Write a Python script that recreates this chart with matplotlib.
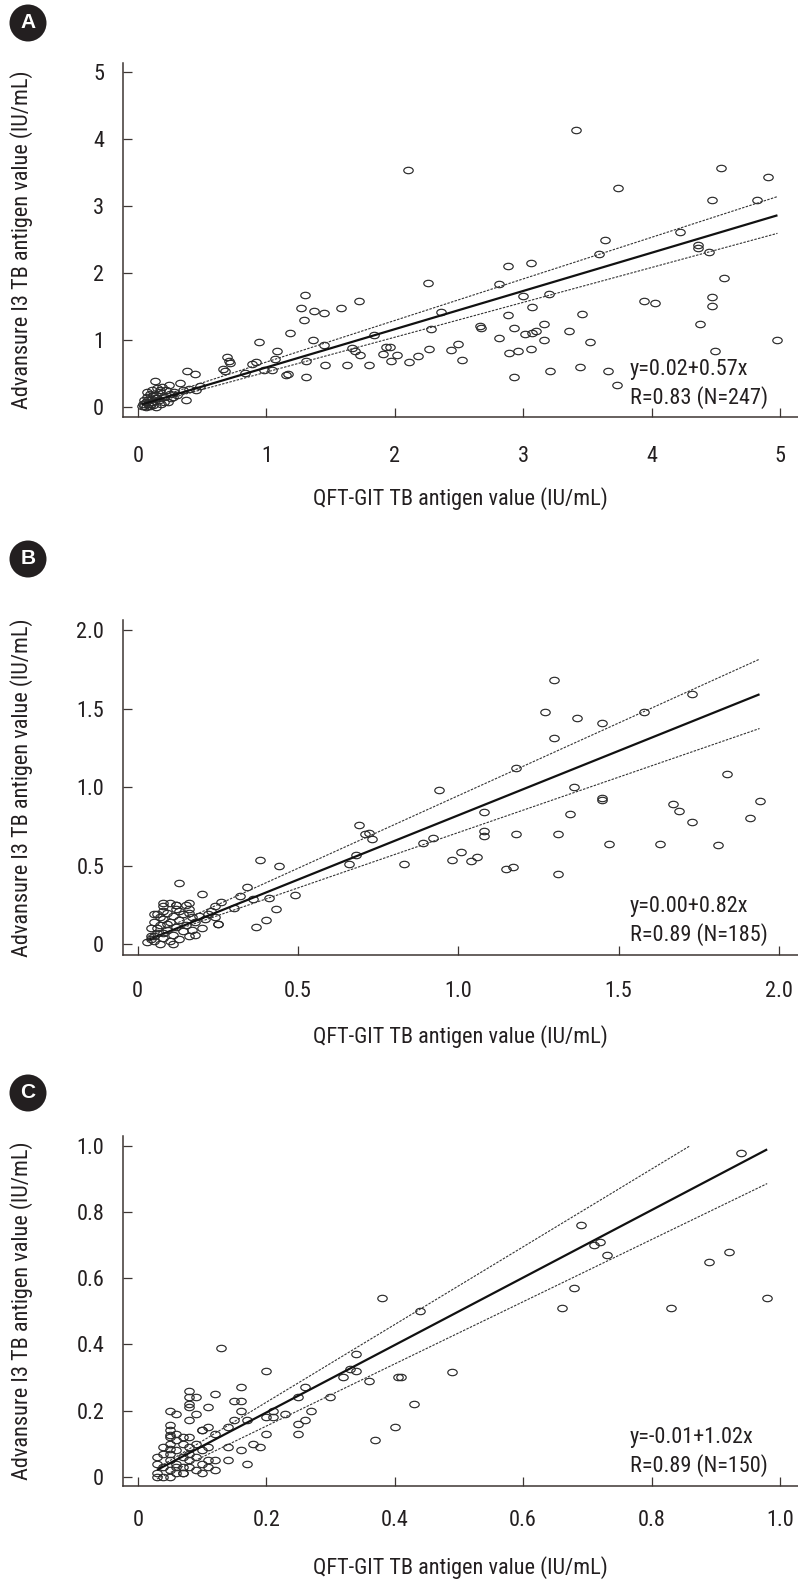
import numpy as np
import matplotlib
matplotlib.use("Agg")
import matplotlib.pyplot as plt
from matplotlib import font_manager as fm
from matplotlib.path import Path
from matplotlib.patches import Ellipse

# ---------------- data ----------------
# Panel A
A_x = [3.41, 2.10, 4.54, 4.91, 3.74, 4.47, 4.82, 4.22, 3.64, 3.59, 4.36, 4.36, 4.45, 4.56, 2.88, 3.06,
       2.26, 2.81, 3.00, 3.20, 2.36, 4.47, 4.47, 3.94, 4.03, 3.07, 2.88, 3.46, 4.38, 2.66, 2.67, 2.28,
       2.93, 3.01, 3.07, 3.10, 3.16, 3.16, 2.81, 3.36, 3.52, 4.98, 2.27, 2.44, 2.49, 2.52, 2.89, 2.96,
       3.06, 4.49, 2.11, 2.18, 2.93, 3.21, 3.44, 3.66, 3.73, 1.96, 1.97, 2.02,
       1.30, 1.27, 1.37, 1.45, 1.29, 1.58, 1.72, 1.18, 0.94, 1.36, 1.08, 1.45, 1.07, 1.31, 0.69, 0.71,
       0.72, 0.66, 0.68, 0.89, 0.92, 0.98, 1.04, 1.15, 1.17, 1.31, 1.46, 1.63, 1.67, 1.69, 1.73, 1.80,
       1.84, 1.93, 1.91, 0.83,
       0.05, 0.06, 0.07, 0.08, 0.09, 0.10, 0.11, 0.12, 0.13, 0.14, 0.15, 0.16, 0.17, 0.18, 0.19, 0.20,
       0.22, 0.23, 0.25, 0.26, 0.28, 0.30, 0.33, 0.35, 0.37, 0.38, 0.40, 0.44, 0.45, 0.48, 0.06, 0.08,
       0.05, 0.10, 0.12, 0.14, 0.07, 0.09, 0.11, 0.15, 0.20, 0.24, 0.17, 0.13, 0.27, 0.04, 0.03]
A_y = [4.13, 3.54, 3.57, 3.43, 3.27, 3.09, 3.08, 2.61, 2.49, 2.28, 2.42, 2.37, 2.31, 1.92, 2.10, 2.14,
       1.85, 1.84, 1.66, 1.68, 1.42, 1.64, 1.50, 1.58, 1.55, 1.49, 1.37, 1.39, 1.24, 1.20, 1.17, 1.16,
       1.17, 1.09, 1.10, 1.14, 1.24, 1.00, 1.03, 1.14, 0.97, 1.00, 0.86, 0.85, 0.94, 0.70, 0.81, 0.83,
       0.86, 0.84, 0.67, 0.76, 0.44, 0.54, 0.60, 0.54, 0.32, 0.90, 0.68, 0.77,
       1.67, 1.47, 1.43, 1.40, 1.30, 1.47, 1.58, 1.11, 0.97, 1.00, 0.83, 0.92, 0.71, 0.69, 0.75, 0.69,
       0.65, 0.56, 0.53, 0.64, 0.67, 0.55, 0.55, 0.47, 0.49, 0.44, 0.63, 0.63, 0.88, 0.84, 0.77, 0.62,
       1.07, 0.90, 0.79, 0.50,
       0.02, 0.08, 0.15, 0.05, 0.20, 0.12, 0.25, 0.03, 0.38, 0.18, 0.28, 0.10, 0.22, 0.05, 0.30, 0.15,
       0.26, 0.08, 0.20, 0.13, 0.22, 0.18, 0.36, 0.25, 0.11, 0.54, 0.27, 0.49, 0.25, 0.31, 0.00, 0.10,
       0.10, 0.05, 0.18, 0.00, 0.22, 0.01, 0.08, 0.14, 0.07, 0.32, 0.25, 0.13, 0.15, 0.04, 0.01]
A_fit = (0.02, 0.57)      # intercept, slope
A_ci_low = (0.00, 0.52)
A_ci_high = (0.05, 0.62)
A_text = ["y=0.02+0.57x", "R=0.83 (N=247)"]

# Panel B
B_x = [1.30, 1.27, 1.37, 1.45, 1.30, 1.58, 1.73, 1.18, 0.94, 1.36, 1.45, 1.45, 1.84, 1.94, 1.91, 1.67,
       1.69, 1.73, 1.35, 1.08, 1.08, 1.08, 1.18, 1.31, 1.47, 1.63, 1.81, 0.92, 0.89, 0.83, 0.98, 1.01,
       1.04, 1.06, 1.15, 1.17, 1.31,
       0.69, 0.71, 0.72, 0.73, 0.68, 0.66, 0.38, 0.44, 0.13, 0.20, 0.34, 0.32, 0.49, 0.41, 0.43, 0.40,
       0.37, 0.36, 0.30, 0.26, 0.25,
       0.03, 0.04, 0.04, 0.05, 0.05, 0.06, 0.06, 0.07, 0.07, 0.08, 0.08, 0.08, 0.09, 0.09, 0.10, 0.10,
       0.10, 0.11, 0.11, 0.12, 0.12, 0.13, 0.13, 0.14, 0.14, 0.15, 0.15, 0.16, 0.16, 0.17, 0.17, 0.18,
       0.19, 0.20, 0.21, 0.22, 0.23, 0.24, 0.24, 0.06, 0.05, 0.09, 0.11, 0.12, 0.07, 0.13, 0.08, 0.18,
       0.04, 0.08, 0.08, 0.16, 0.16, 0.05, 0.25, 0.12]
B_y = [1.68, 1.48, 1.44, 1.41, 1.31, 1.48, 1.59, 1.12, 0.98, 1.00, 0.93, 0.92, 1.08, 0.91, 0.80, 0.89,
       0.85, 0.78, 0.83, 0.84, 0.72, 0.69, 0.70, 0.70, 0.635, 0.635, 0.63, 0.675, 0.645, 0.51, 0.535, 0.586,
       0.527, 0.556, 0.476, 0.49, 0.446,
       0.76, 0.70, 0.705, 0.67, 0.57, 0.51, 0.535, 0.50, 0.39, 0.32, 0.365, 0.305, 0.31, 0.295, 0.22, 0.15,
       0.11, 0.285, 0.23, 0.265, 0.13,
       0.01, 0.05, 0.10, 0.02, 0.14, 0.19, 0.07, 0.12, 0.00, 0.24, 0.16, 0.04, 0.20, 0.09, 0.26, 0.14,
       0.02, 0.18, 0.06, 0.22, 0.11, 0.15, 0.03, 0.19, 0.08, 0.25, 0.12, 0.20, 0.05, 0.17, 0.09, 0.14,
       0.18, 0.10, 0.16, 0.19, 0.21, 0.17, 0.24, 0.10, 0.05, 0.13, 0.00, 0.25, 0.17, 0.21, 0.07, 0.06,
       0.03, 0.26, 0.21, 0.26, 0.22, 0.19, 0.13, 0.25]
B_fit = (0.00, 0.82)
B_ci_low = (0.005, 0.705)
B_ci_high = (0.02, 0.925)
B_text = ["y=0.00+0.82x", "R=0.89 (N=185)"]

# Panel C
C_x = [0.94, 0.69, 0.71, 0.72, 0.73, 0.92, 0.89, 0.68, 0.66, 0.83, 0.98, 0.44, 0.49, 0.41, 0.43,
       0.38, 0.13, 0.20, 0.34, 0.33, 0.34, 0.32, 0.36, 0.405, 0.40, 0.37, 0.30, 0.26, 0.25, 0.27,
       0.23, 0.21, 0.21, 0.20, 0.25, 0.26, 0.25, 0.20, 0.19, 0.18, 0.16, 0.17, 0.14, 0.14,
       0.16, 0.15, 0.16, 0.16, 0.17, 0.15, 0.14, 0.12, 0.11, 0.11, 0.10, 0.12,
       0.08, 0.08, 0.09, 0.08, 0.08, 0.09, 0.08, 0.05, 0.06, 0.05, 0.05, 0.05,
       0.03, 0.03, 0.03, 0.03, 0.04, 0.04, 0.04, 0.04, 0.05, 0.05, 0.05, 0.05, 0.05, 0.05, 0.05,
       0.06, 0.06, 0.06, 0.06, 0.06, 0.07, 0.07, 0.07, 0.07, 0.07, 0.08, 0.08, 0.08, 0.08, 0.08,
       0.09, 0.09, 0.09, 0.10, 0.10, 0.10, 0.11, 0.11, 0.11, 0.12, 0.06, 0.07, 0.10, 0.12]
C_y = [0.98, 0.76, 0.70, 0.71, 0.67, 0.68, 0.65, 0.57, 0.51, 0.51, 0.54, 0.50, 0.317, 0.30, 0.22,
       0.54, 0.39, 0.32, 0.37, 0.325, 0.32, 0.30, 0.29, 0.30, 0.15, 0.11, 0.24, 0.27, 0.24, 0.20,
       0.19, 0.20, 0.18, 0.18, 0.16, 0.17, 0.13, 0.13, 0.09, 0.10, 0.08, 0.04, 0.05, 0.09,
       0.27, 0.23, 0.23, 0.20, 0.17, 0.17, 0.15, 0.25, 0.21, 0.15, 0.14, 0.13,
       0.26, 0.24, 0.24, 0.22, 0.21, 0.19, 0.17, 0.20, 0.19, 0.155, 0.14, 0.125,
       0.06, 0.04, 0.01, 0.00, 0.03, 0.09, 0.07, 0.00, 0.10, 0.05, 0.02, 0.00, 0.12, 0.085, 0.07,
       0.08, 0.11, 0.04, 0.01, 0.13, 0.10, 0.06, 0.03, 0.12, 0.01, 0.09, 0.05, 0.12, 0.03, 0.07,
       0.10, 0.06, 0.02, 0.08, 0.04, 0.01, 0.05, 0.03, 0.09, 0.05, 0.03, 0.01, 0.14, 0.02]
C_fit = (-0.01, 1.02)
C_ci_low = (-0.035, 0.94)
C_ci_high = (-0.01, 1.175)
C_text = ["y=-0.01+1.02x", "R=0.89 (N=150)"]

XLABEL = "QFT-GIT TB antigen value (IU/mL)"
YLABEL = "Advansure I3 TB antigen value (IU/mL)"

# ---------------- fonts ----------------
names = {f.name for f in fm.fontManager.ttflist}
FONT = None
for cand in ["Roboto Condensed", "Liberation Sans Narrow", "Open Sans Condensed"]:
    if cand in names:
        FONT = cand
        break
STRETCH = "normal"
if FONT is None:
    if any(f.name == "DejaVu Sans" and f.stretch == "condensed" for f in fm.fontManager.ttflist):
        FONT = "DejaVu Sans"
        STRETCH = "condensed"
    else:
        FONT = "Liberation Sans"
plt.rcParams["font.family"] = [FONT, "DejaVu Sans"]
plt.rcParams["font.stretch"] = STRETCH

TXT = "#231f20"
SPINE = "#3d3633"

# ellipse marker (wider than tall)
circ = Path.unit_circle()
ell = Path(circ.vertices * np.array([1.0, 0.68]), circ.codes)

W, H = 798, 1589
fig = plt.figure(figsize=(W / 100, H / 100), dpi=100)


def px_axes(left, top, right, bottom):
    return fig.add_axes([left / W, 1 - bottom / H, (right - left) / W, (bottom - top) / H])


panels = [
    dict(letter="A", box=(123, 63, 798, 417), x=A_x, y=A_y, fit=A_fit, lo=A_ci_low, hi=A_ci_high,
         text=A_text, xlim=(-0.117, 5.14), ylim=(-0.15, 5.13), xt=[0, 1, 2, 3, 4, 5],
         yt=[0, 1, 2, 3, 4, 5], fmt="{:g}", yfmt="{:g}", circ=(28, 23), xpad=21,
         textpos=(630, 370), clip=None),
    dict(letter="B", box=(123, 620, 798, 955), x=B_x, y=B_y, fit=B_fit, lo=B_ci_low, hi=B_ci_high,
         text=B_text, xlim=(-0.046, 2.06), ylim=(-0.07, 2.064), xt=[0, 0.5, 1.0, 1.5, 2.0],
         yt=[0, 0.5, 1.0, 1.5, 2.0], fmt="{:.1f}", yfmt="{:.1f}", circ=(28, 559), xpad=19,
         textpos=(630, 907), clip=None),
    dict(letter="C", box=(123, 1136, 798, 1486), x=C_x, y=C_y, fit=C_fit, lo=C_ci_low, hi=C_ci_high,
         text=C_text, xlim=(-0.023, 1.028), ylim=(-0.028, 1.03), xt=[0, 0.2, 0.4, 0.6, 0.8, 1.0],
         yt=[0, 0.2, 0.4, 0.6, 0.8, 1.0], fmt="{:.1f}", yfmt="{:.1f}", circ=(28, 1093), xpad=17,
         textpos=(630, 1438), clip=1.0),
]

for p in panels:
    l, t, r, b = p["box"]
    ax = px_axes(l, t, r, b)
    ax.set_xlim(*p["xlim"])
    ax.set_ylim(*p["ylim"])
    for s in ["top", "right"]:
        ax.spines[s].set_visible(False)
    for s in ["left", "bottom"]:
        ax.spines[s].set_color(SPINE)
        ax.spines[s].set_linewidth(1.1)
    ax.set_xticks(p["xt"])
    ax.set_yticks(p["yt"])
    ax.set_xticklabels(["0" if v == 0 else p["fmt"].format(v) for v in p["xt"]])
    ax.set_yticklabels(["0" if v == 0 else p["yfmt"].format(v) for v in p["yt"]])
    ax.tick_params(axis="both", direction="in", length=6.5, width=0.9, color=SPINE,
                   labelsize=16, labelcolor=TXT)
    ax.tick_params(axis="y", pad=13.5)
    ax.tick_params(axis="x", pad=p["xpad"])

    x = np.asarray(p["x"])
    y = np.asarray(p["y"])
    ax.plot(x, y, linestyle="none", marker=ell, markersize=6.8, markerfacecolor="none",
            markeredgecolor="#2a2a2a", markeredgewidth=0.85, zorder=3)

    x0, x1 = x.min(), x.max()
    xs = np.array([x0, x1])
    a, bb = p["fit"]
    ax.plot(xs, a + bb * xs, color="#111111", lw=1.6, zorder=4, solid_capstyle="butt")
    for (ca, cb) in (p["lo"], p["hi"]):
        xe = x1
        if p["clip"] is not None and ca + cb * x1 > p["clip"]:
            xe = (p["clip"] - ca) / cb
        xx = np.array([x0, xe])
        ax.plot(xx, ca + cb * xx, color="#333333", lw=0.8, linestyle=(0, (2.2, 1.2)), zorder=4)

    ax.set_xlabel(XLABEL, fontsize=16, color=TXT, labelpad=0)
    ax.xaxis.set_label_coords(0.5, -70 / (b - t))
    ax.set_ylabel(YLABEL, fontsize=16, color=TXT)
    ax.yaxis.set_label_coords(-90 / (r - l), 0.5)

    tx, ty = p["textpos"]
    fig.text(tx / W, 1 - ty / H, p["text"][0], fontsize=16, color=TXT, va="center", ha="left")
    fig.text(tx / W, 1 - (ty + 28) / H, p["text"][1], fontsize=16, color=TXT, va="center", ha="left")

    cx, cy = p["circ"]
    fig.add_artist(Ellipse((cx / W, 1 - cy / H), 37 / W, 37 / H, transform=fig.transFigure,
                           facecolor="#231f20", edgecolor="none"))
    fig.text(cx / W, 1 - cy / H, p["letter"], fontsize=15, fontweight="bold", color="white",
             ha="center", va="center", family=["Liberation Sans", "DejaVu Sans"])

fig.savefig("out.png", dpi=100)
